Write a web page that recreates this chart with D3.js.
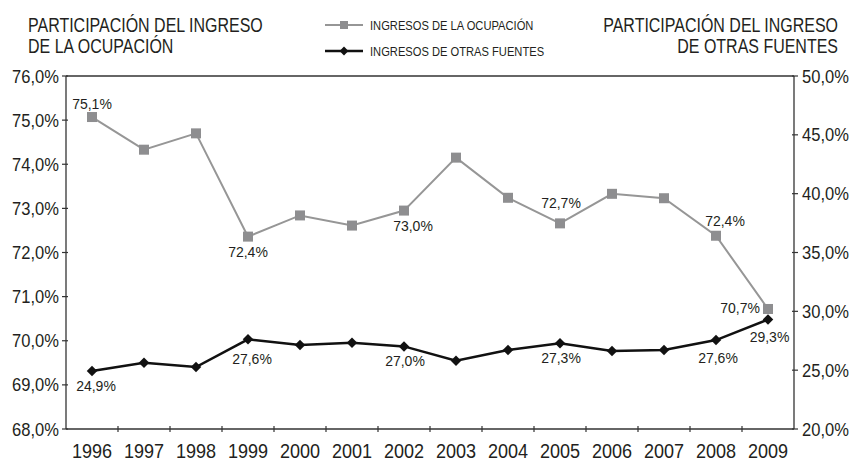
<!DOCTYPE html>
<html>
<head>
<meta charset="utf-8">
<script src="https://cdn.jsdelivr.net/npm/d3@7"></script>
<style>
  body { margin: 0; background: #fff; }
  text { font-family: "Liberation Sans", Arial, sans-serif; fill: #231f20; }
</style>
</head>
<body>
<div id="chart"></div>
<script>
// data
var years = ["1996","1997","1998","1999","2000","2001","2002","2003","2004","2005","2006","2007","2008","2009"];
var ocupacion = [75.07, 74.33, 74.70, 72.36, 72.84, 72.61, 72.95, 74.15, 73.24, 72.66, 73.33, 73.23, 72.38, 70.72];
var otrasFuentes = [24.93, 25.63, 25.27, 27.62, 27.14, 27.33, 27.02, 25.80, 26.71, 27.28, 26.63, 26.71, 27.56, 29.30];
var leftTicks = [68, 69, 70, 71, 72, 73, 74, 75, 76];
var rightTicks = [20, 25, 30, 35, 40, 45, 50];
// which points carry a label
var ocupLabels = [0, 3, 6, 9, 12, 13];
var otrasLabels = [0, 3, 6, 9, 12, 13];

var width = 851, height = 461;
var margin = {top: 76, right: 57, bottom: 32, left: 66};

var svg = d3.select("#chart").append("svg")
    .attr("width", width)
    .attr("height", height);

var x = d3.scaleBand().domain(years).range([margin.left, width - margin.right]);
var yL = d3.scaleLinear().domain([68, 76]).range([height - margin.bottom, margin.top]);
var yR = d3.scaleLinear().domain([20, 50]).range([height - margin.bottom, margin.top]);

var fmt = function (v) { return v.toFixed(1).replace(".", ",") + "%"; };
var axisColor = "#333";
var x0 = margin.left, x1 = width - margin.right, yb = height - margin.bottom;

//Condensed-looking text: squeeze horizontally around the anchor point
function addText(parent, tx, ty, str, size, anchor, sx) {
    return parent.append("text")
        .attr("transform", "translate(" + tx + "," + ty + ") scale(" + sx + ",1)")
        .attr("text-anchor", anchor)
        .attr("font-size", size)
        .text(str);
}

//Axes frame
[[x0, margin.top, x0, yb], [x1, margin.top, x1, yb], [x0, yb, x1, yb], [x0, margin.top, x1, margin.top]]
    .forEach(function (l) {
        svg.append("line").attr("x1", l[0]).attr("y1", l[1]).attr("x2", l[2]).attr("y2", l[3])
            .attr("stroke", axisColor).attr("stroke-width", 1.3);
    });

//Left ticks
var lt = svg.append("g");
lt.selectAll("line").data(leftTicks).enter().append("line")
    .attr("x1", x0 - 4).attr("x2", x0 + 2)
    .attr("y1", function (d) { return yL(d); }).attr("y2", function (d) { return yL(d); })
    .attr("stroke", axisColor).attr("stroke-width", 1.2);
leftTicks.forEach(function (d) { addText(lt, x0 - 7, yL(d) + 6.5, fmt(d), 18, "end", 0.92); });

//Right ticks
var rt = svg.append("g");
rt.selectAll("line").data(rightTicks).enter().append("line")
    .attr("x1", x1 - 2).attr("x2", x1 + 4)
    .attr("y1", function (d) { return yR(d); }).attr("y2", function (d) { return yR(d); })
    .attr("stroke", axisColor).attr("stroke-width", 1.2);
rightTicks.forEach(function (d) { addText(rt, x1 + 8, yR(d) + 6.5, fmt(d), 18, "start", 0.92); });

//X ticks at band boundaries
var bounds = years.slice(1).map(function (d) { return x(d); });
svg.append("g").selectAll("line").data(bounds).enter().append("line")
    .attr("x1", function (d) { return d; }).attr("x2", function (d) { return d; })
    .attr("y1", yb - 3).attr("y2", yb + 3)
    .attr("stroke", axisColor).attr("stroke-width", 1.2);
var xl = svg.append("g");
years.forEach(function (d) { addText(xl, x(d) + x.bandwidth() / 2, yb + 28.5, d, 20.5, "middle", 0.88); });

var cx = function (i) { return x(years[i]) + x.bandwidth() / 2; };

//Gray series (left axis)
var grayLine = d3.line().x(function (d, i) { return cx(i); }).y(function (d) { return yL(d); });
svg.append("path").datum(ocupacion).attr("d", grayLine)
    .attr("fill", "none").attr("stroke", "#969696").attr("stroke-width", 2);
svg.append("g").selectAll("rect").data(ocupacion).enter().append("rect")
    .attr("x", function (d, i) { return cx(i) - 5; })
    .attr("y", function (d) { return yL(d) - 5; })
    .attr("width", 10).attr("height", 10)
    .attr("fill", "#8e8e90");

//Black series (right axis)
var blackLine = d3.line().x(function (d, i) { return cx(i); }).y(function (d) { return yR(d); });
svg.append("path").datum(otrasFuentes).attr("d", blackLine)
    .attr("fill", "none").attr("stroke", "#111").attr("stroke-width", 2.5);
var diamond = d3.symbol().type(d3.symbolDiamond2).size(70);
svg.append("g").selectAll("path").data(otrasFuentes).enter().append("path")
    .attr("d", diamond)
    .attr("transform", function (d, i) { return "translate(" + cx(i) + "," + yR(d) + ")"; })
    .attr("fill", "#111");

//Data labels
var ocupPos = {0: [0, -8, "middle"], 3: [0, 20, "middle"], 6: [9, 20.5, "middle"], 9: [1, -15.5, "middle"],
               12: [9, -9.5, "middle"], 13: [-8, 4, "end"]};
var gl = svg.append("g");
ocupLabels.forEach(function (i) {
    var p = ocupPos[i];
    addText(gl, cx(i) + p[0], yL(ocupacion[i]) + p[1], fmt(ocupacion[i]), 14, p[2], 1);
});

var otrasPos = {0: [4, 20.5], 3: [4, 24.5], 6: [1, 20], 9: [1, 20], 12: [2, 22.5], 13: [1.5, 22]};
var bl = svg.append("g");
otrasLabels.forEach(function (i) {
    var p = otrasPos[i];
    addText(bl, cx(i) + p[0], yR(otrasFuentes[i]) + p[1], fmt(otrasFuentes[i]), 14, "middle", 1);
});

//Titles
var tg = svg.append("g");
addText(tg, 28, 32, "PARTICIPACIÓN DEL INGRESO", 20.5, "start", 0.78);
addText(tg, 28, 53, "DE LA OCUPACIÓN", 20.5, "start", 0.78);
addText(tg, 838, 32, "PARTICIPACIÓN DEL INGRESO", 20.5, "end", 0.78);
addText(tg, 838, 53, "DE OTRAS FUENTES", 20.5, "end", 0.78);

//Legend
var lg = svg.append("g");
lg.append("line").attr("x1", 325).attr("x2", 363).attr("y1", 25).attr("y2", 25)
    .attr("stroke", "#969696").attr("stroke-width", 2);
lg.append("rect").attr("x", 340).attr("y", 21).attr("width", 8).attr("height", 8).attr("fill", "#8e8e90");
addText(lg, 370, 29.5, "INGRESOS DE LA OCUPACIÓN", 12, "start", 0.93);
lg.append("line").attr("x1", 325).attr("x2", 363).attr("y1", 51).attr("y2", 51)
    .attr("stroke", "#111").attr("stroke-width", 2.5);
lg.append("path").attr("d", d3.symbol().type(d3.symbolDiamond2).size(50))
    .attr("transform", "translate(344,51)").attr("fill", "#111");
addText(lg, 370, 55.5, "INGRESOS DE OTRAS FUENTES", 12, "start", 0.93);
</script>
</body>
</html>
